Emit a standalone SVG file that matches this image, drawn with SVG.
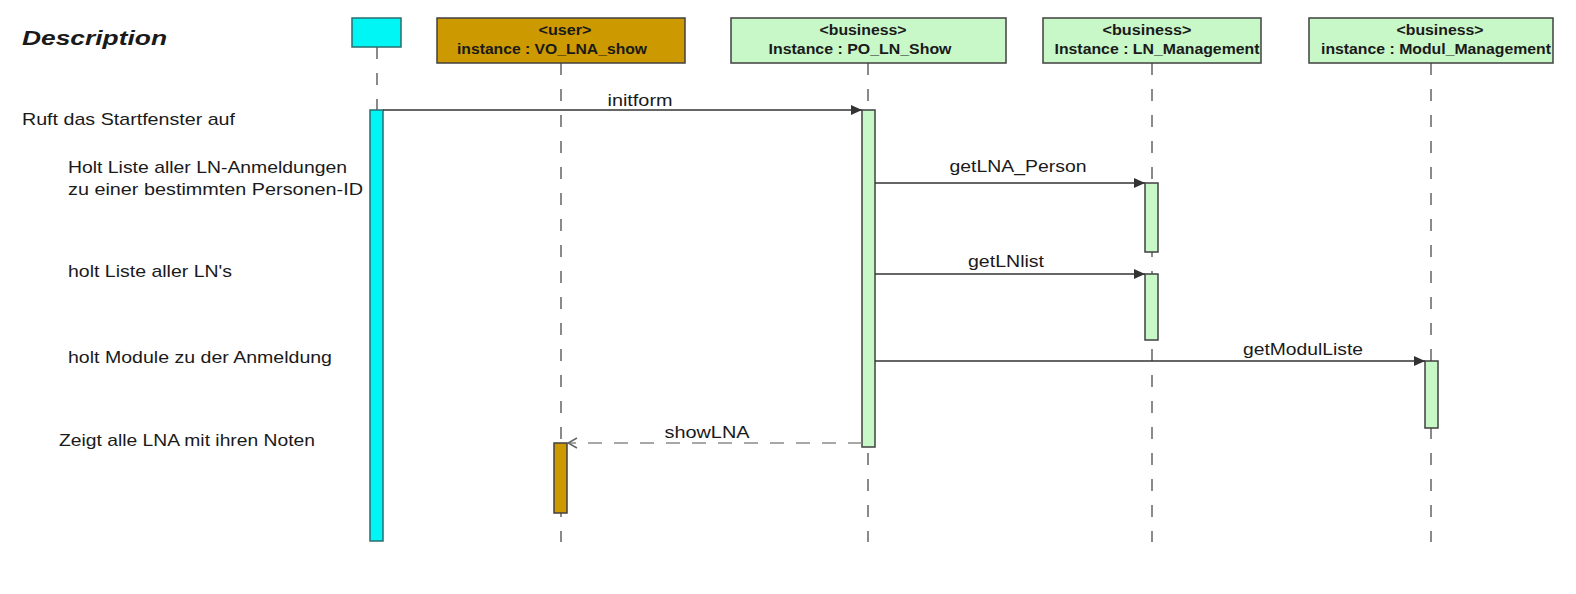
<svg xmlns="http://www.w3.org/2000/svg" width="1576" height="594" viewBox="0 0 1576 594">
<style>
text{font-family:"Liberation Sans",Arial,sans-serif;fill:#1a1a1a}
.desc{font-size:17px}
.hdr{font-size:14.5px;font-weight:bold;text-anchor:middle}
.msg{font-size:16px;text-anchor:middle}
.life{stroke:#8a8a8a;stroke-width:2;stroke-dasharray:12 14;fill:none}
.box{stroke:#404040;stroke-width:1.5}
.grn{fill:#c8f7c8}
.brn{fill:#cc9900}
.cyn{fill:#00f5f5;stroke:#2a6e6e;stroke-width:1.5}
.call{stroke:#333;stroke-width:1.3;fill:none}
.ret{stroke:#8a8a8a;stroke-width:1.5;stroke-dasharray:14 12;fill:none}
</style>
<defs>
<marker id="filled" markerWidth="12" markerHeight="10" refX="11" refY="5" orient="auto" markerUnits="userSpaceOnUse">
<path d="M0,0 L11,5 L0,10 Z" fill="#333"/>
</marker>
<marker id="open" markerWidth="12" markerHeight="12" refX="11" refY="6" orient="auto" markerUnits="userSpaceOnUse">
<path d="M2,1 L11,6 L2,11" fill="none" stroke="#666" stroke-width="1.5"/>
</marker>
</defs>
<rect width="1576" height="594" fill="#ffffff"/>

<g id="descriptions">
<text x="22" y="45" style="font-size:21px;font-weight:bold;font-style:italic" textLength="145" lengthAdjust="spacingAndGlyphs">Description</text>
<text class="desc" x="22" y="125" textLength="213" lengthAdjust="spacingAndGlyphs">Ruft das Startfenster auf</text>
<text class="desc" x="68" y="173" textLength="279" lengthAdjust="spacingAndGlyphs">Holt Liste aller LN-Anmeldungen</text>
<text class="desc" x="68" y="195" textLength="295" lengthAdjust="spacingAndGlyphs">zu einer bestimmten Personen-ID</text>
<text class="desc" x="68" y="277" textLength="164" lengthAdjust="spacingAndGlyphs">holt Liste aller LN's</text>
<text class="desc" x="68" y="363" textLength="264" lengthAdjust="spacingAndGlyphs">holt Module zu der Anmeldung</text>
<text class="desc" x="59" y="446" textLength="256" lengthAdjust="spacingAndGlyphs">Zeigt alle LNA mit ihren Noten</text>
</g>

<g id="lifelines">
<line class="life" x1="377" y1="47" x2="377" y2="110"/>
<line class="life" x1="561" y1="63" x2="561" y2="542"/>
<line class="life" x1="868" y1="63" x2="868" y2="542"/>
<line class="life" x1="1152" y1="63" x2="1152" y2="542"/>
<line class="life" x1="1431" y1="63" x2="1431" y2="542"/>
</g>

<g id="actor">
<rect class="cyn" x="352" y="18" width="49" height="29"/>
<rect class="cyn" x="370" y="110" width="13" height="431"/>
</g>

<g id="vo_lna_show">
<rect class="box brn" x="437" y="18" width="248" height="45"/>
<text class="hdr" x="565" y="35" textLength="53" lengthAdjust="spacingAndGlyphs">&lt;user&gt;</text>
<text class="hdr" x="552" y="54" textLength="190" lengthAdjust="spacingAndGlyphs">instance : VO_LNA_show</text>
<rect class="box brn" x="554" y="443" width="13" height="70"/>
</g>

<g id="po_ln_show">
<rect class="box grn" x="731" y="18" width="275" height="45"/>
<text class="hdr" x="863" y="35" textLength="87" lengthAdjust="spacingAndGlyphs">&lt;business&gt;</text>
<text class="hdr" x="860" y="54" textLength="183" lengthAdjust="spacingAndGlyphs">Instance : PO_LN_Show</text>
<rect class="box grn" x="862" y="110" width="13" height="337"/>
</g>

<g id="ln_management">
<rect class="box grn" x="1043" y="18" width="218" height="45"/>
<text class="hdr" x="1147" y="35" textLength="89" lengthAdjust="spacingAndGlyphs">&lt;business&gt;</text>
<text class="hdr" x="1157" y="54" textLength="205" lengthAdjust="spacingAndGlyphs">Instance : LN_Management</text>
<rect class="box grn" x="1145" y="183" width="13" height="69"/>
<rect class="box grn" x="1145" y="274" width="13" height="66"/>
</g>

<g id="modul_management">
<rect class="box grn" x="1309" y="18" width="244" height="45"/>
<text class="hdr" x="1440" y="35" textLength="87" lengthAdjust="spacingAndGlyphs">&lt;business&gt;</text>
<text class="hdr" x="1436" y="54" textLength="230" lengthAdjust="spacingAndGlyphs">instance : Modul_Management</text>
<rect class="box grn" x="1425" y="361" width="13" height="67"/>
</g>

<g id="connectors">
<line class="call" x1="383" y1="110" x2="862" y2="110" marker-end="url(#filled)"/>
<text class="msg" x="640" y="106" textLength="65" lengthAdjust="spacingAndGlyphs">initform</text>
<line class="call" x1="875" y1="183" x2="1145" y2="183" marker-end="url(#filled)"/>
<text class="msg" x="1018" y="172" textLength="137" lengthAdjust="spacingAndGlyphs">getLNA_Person</text>
<line class="call" x1="875" y1="274" x2="1145" y2="274" marker-end="url(#filled)"/>
<text class="msg" x="1006" y="267" textLength="76" lengthAdjust="spacingAndGlyphs">getLNlist</text>
<line class="call" x1="875" y1="361" x2="1425" y2="361" marker-end="url(#filled)"/>
<text class="msg" x="1303" y="355" textLength="120" lengthAdjust="spacingAndGlyphs">getModulListe</text>
<line class="ret" x1="862" y1="443" x2="568" y2="443" marker-end="url(#open)"/>
<text class="msg" x="707" y="438" textLength="85" lengthAdjust="spacingAndGlyphs">showLNA</text>
</g>
</svg>
